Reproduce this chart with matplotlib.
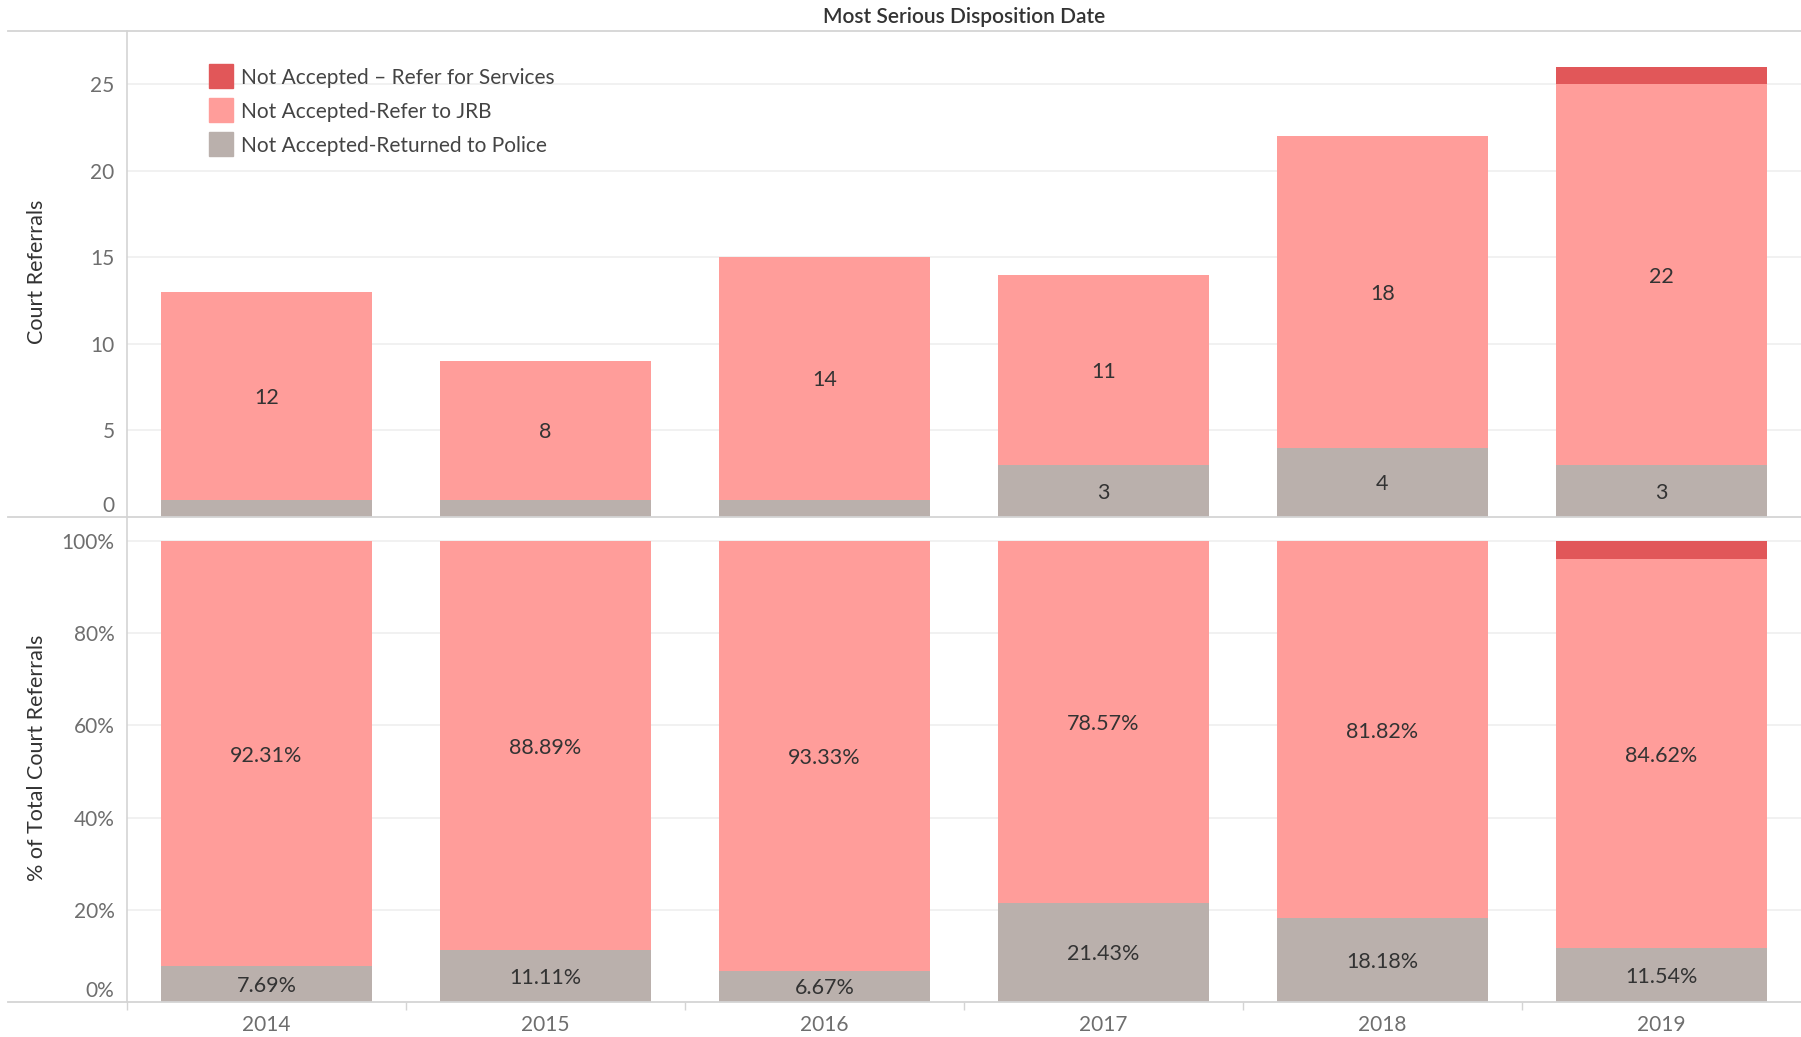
import numpy as np
import matplotlib
matplotlib.use('Agg')
import matplotlib.pyplot as plt
from matplotlib.patches import Rectangle
from matplotlib.lines import Line2D
from matplotlib import transforms

# データ
years = ['2014', '2015', '2016', '2017', '2018', '2019']
police = [1, 1, 1, 3, 4, 3]
jrb = [12, 8, 14, 11, 18, 22]
services = [0, 0, 0, 0, 0, 1]
series_names = ['Not Accepted-Returned to Police', 'Not Accepted-Refer to JRB',
                'Not Accepted \u2013 Refer for Services']
colors = ['#BAB0AC', '#FF9D9A', '#E15759']

top_ticks = [0, 5, 10, 15, 20, 25]
pct_ticks = [0, 20, 40, 60, 80, 100]

plt.rcParams['font.family'] = ['Lato', 'DejaVu Sans']

W, H = 1801, 1037
fig = plt.figure(figsize=(W / 100, H / 100), dpi=100)

left = 127 / W
ax_top = fig.add_axes([left, 1 - 517 / H, 1 - left, 486 / H])
ax_bot = fig.add_axes([left, 1 - 1001.6 / H, 1 - left, 484.6 / H])

x = np.arange(len(years))
stack = np.array([police, jrb, services], dtype=float)
totals = stack.sum(axis=0)
pct = stack / totals * 100

grid_c = '#EFEFEF'
line_c = '#D4D4D4'
text_c = '#333333'
tick_c = '#6E6E6E'

# ラベルを少し下へ
label_shift = transforms.ScaledTranslation(0, -2 / 100, fig.dpi_scale_trans)


def draw_panel(ax, data, ylim, ticks, fmt):
    bottom = np.zeros(len(years))
    span = ylim[1] - ylim[0]
    for vals, c in zip(data, colors):
        ax.bar(x, vals, width=0.755, bottom=bottom, color=c, zorder=2)
        for xi, v, b in zip(x, vals, bottom):
            if v / span > 0.05:
                ax.text(xi, b + v / 2, fmt(v), ha='center', va='center',
                        fontsize=15.5, color=text_c, zorder=3,
                        transform=ax.transData + label_shift)
        bottom = bottom + vals
    ax.set_xlim(-0.5, len(years) - 0.5)
    ax.set_ylim(*ylim)
    ax.set_yticks(ticks)
    for t in ticks[1:]:
        ax.axhline(t, color=grid_c, lw=1.2, zorder=0)
    for s in ['top', 'right', 'bottom']:
        ax.spines[s].set_visible(False)
    ax.spines['left'].set_color(line_c)
    ax.spines['left'].set_linewidth(1.2)
    ax.tick_params(axis='y', length=0, pad=9, labelsize=15, labelcolor=tick_c)
    # 一番下のラベルは少し上にずらす
    lab = ax.get_yticklabels()[0]
    lab.set_transform(lab.get_transform() +
                      transforms.ScaledTranslation(0, 13 / 100, fig.dpi_scale_trans))


draw_panel(ax_top, stack, (0, 28.06), top_ticks, lambda v: f'{v:g}')
ax_top.set_yticklabels([str(t) for t in top_ticks])
ax_top.set_xticks([])

draw_panel(ax_bot, pct, (0, 105.3), pct_ticks, lambda v: f'{v:.2f}%')
ax_bot.set_yticklabels([f'{t}%' for t in pct_ticks])
ax_bot.set_xticks(x)
ax_bot.set_xticklabels(years)
ax_bot.set_xticks(np.arange(len(years)) - 0.5, minor=True)
ax_bot.tick_params(axis='x', which='major', length=0, pad=10, labelsize=15,
                   labelcolor=tick_c)
ax_bot.tick_params(axis='x', which='minor', length=6, color=line_c, width=1)

# 区切り線
for yp in [31, 517, 1001.6]:
    fig.add_artist(Line2D([8 / W, 1], [1 - yp / H, 1 - yp / H], color=line_c,
                          lw=1.3, transform=fig.transFigure))

# タイトル
fig.text((127 + W) / 2 / W, 1 - 17 / H, 'Most Serious Disposition Date',
         ha='center', va='center', fontsize=15, fontweight='semibold', color=text_c)

# 軸ラベル
fig.text(37 / W, 1 - 272 / H, 'Court Referrals', rotation=90, ha='center',
         va='center', fontsize=15.5, color=text_c)
fig.text(37 / W, 1 - 758 / H, '% of Total Court Referrals', rotation=90,
         ha='center', va='center', fontsize=15.5, color=text_c)

# 凡例
for i, (name, c) in enumerate(zip(series_names[::-1], colors[::-1])):
    yc = 76 + 34 * i
    fig.add_artist(Rectangle((209 / W, 1 - (yc + 12) / H), 24 / W, 24 / H,
                             color=c, transform=fig.transFigure))
    fig.text(241 / W, 1 - (yc + 2) / H, name, ha='left', va='center', fontsize=15,
             color='#444444')

fig.savefig('out.png', dpi=100)
